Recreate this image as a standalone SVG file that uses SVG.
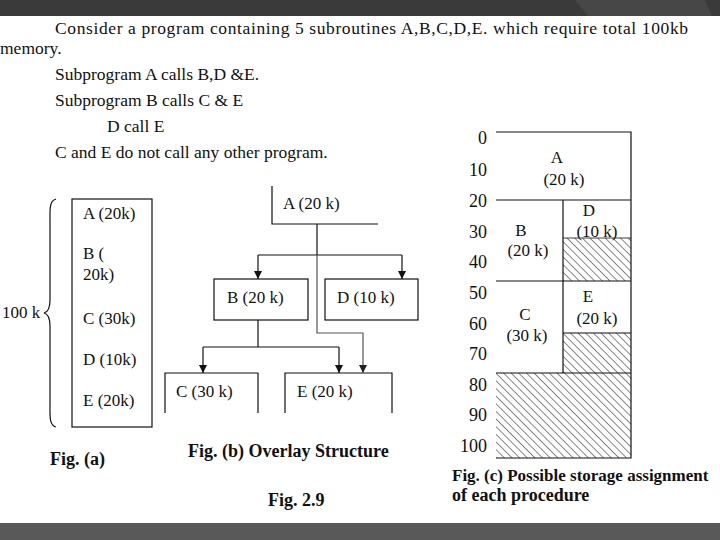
<svg xmlns="http://www.w3.org/2000/svg" width="720" height="540" viewBox="0 0 720 540">
<defs>
<style>
.t{font-family:"Liberation Serif","Times New Roman",serif;font-size:17.5px;fill:#111}
.s{font-family:"Liberation Serif","Times New Roman",serif;font-size:17px;fill:#111}
.n{font-family:"Liberation Serif","Times New Roman",serif;font-size:18px;fill:#111}
.b{font-family:"Liberation Serif","Times New Roman",serif;font-size:18px;font-weight:bold;fill:#111}
.bc{font-family:"Liberation Serif","Times New Roman",serif;font-size:17px;font-weight:bold;fill:#111}
.ln{stroke:#111;stroke-width:1.2;fill:none}
.bx{stroke:#111;stroke-width:1.2;fill:#fff}
</style>
<marker id="ah" viewBox="0 0 10 10" refX="10" refY="5" markerWidth="8" markerHeight="9" markerUnits="userSpaceOnUse" orient="auto">
<path d="M0,0 L10,5 L0,10 Z" fill="#111"/>
</marker>
<marker id="ahg" viewBox="0 0 10 10" refX="10" refY="5" markerWidth="8" markerHeight="9" markerUnits="userSpaceOnUse" orient="auto">
<path d="M0,0 L10,5 L0,10 Z" fill="#222"/>
</marker>
<pattern id="hatch" width="5.4" height="5.4" patternUnits="userSpaceOnUse" patternTransform="rotate(-45)">
<line x1="0" y1="0" x2="0" y2="5.4" stroke="#111" stroke-width="1"/>
</pattern>
</defs>
<rect x="0" y="0" width="720" height="540" fill="#fff"/>
<rect x="0" y="0" width="720" height="16" fill="#3a3a3a"/>
<polygon points="575,0 705,0 712,16 588,16" fill="#474747"/>
<rect x="0" y="523" width="720" height="17" fill="#595959"/>

<g id="problem-text">
<text class="t" x="55" y="34" textLength="633" lengthAdjust="spacing">Consider a program containing 5 subroutines A,B,C,D,E. which require total 100kb</text>
<text class="t" x="0" y="54">memory.</text>
<text class="t" x="55" y="80">Subprogram A calls B,D &amp;E.</text>
<text class="t" x="55" y="106">Subprogram B calls  C &amp; E</text>
<text class="t" x="107" y="132">D call E</text>
<text class="t" x="55" y="158">C and E do not call any other program.</text>
</g>

<g id="fig-a">
<rect class="bx" x="72" y="199" width="80" height="228"/>
<path class="ln" d="M56,199 C49,201 50,210 50,222 L50,300 C50,308 48,312 44,313 C48,314 50,318 50,326 L50,404 C50,416 49,425 56,427"/>
<text class="s" x="2" y="318">100 k</text>
<text class="s" x="83" y="219">A (20k)</text>
<text class="s" x="83" y="259">B (</text>
<text class="s" x="83" y="280">20k)</text>
<text class="s" x="83" y="324">C (30k)</text>
<text class="s" x="83" y="365">D (10k)</text>
<text class="s" x="83" y="406">E (20k)</text>
<text class="b" x="50" y="465">Fig. (a)</text>
</g>

<g id="fig-b">
<g id="node-A">
<path class="ln" d="M272,186 L272,224 L378,224"/>
<text class="s" x="283" y="209">A (20 k)</text>
</g>
<g id="node-B">
<rect class="bx" x="214" y="279" width="94" height="41"/>
<text class="s" x="227" y="303">B (20 k)</text>
</g>
<g id="node-D">
<rect class="bx" x="325" y="279" width="93" height="41"/>
<text class="s" x="337" y="303">D (10 k)</text>
</g>
<g id="node-C">
<path class="ln" d="M165,413 L165,373 L258,373 L258,413"/>
<text class="s" x="176" y="397">C (30 k)</text>
</g>
<g id="node-E">
<path class="ln" d="M285,413 L285,373 L392,373 L392,413"/>
<text class="s" x="297" y="397">E (20 k)</text>
</g>
<g id="connectors">
<path class="ln" d="M317,224 L317,255"/>
<path class="ln" d="M258,255 L402,255"/>
<path class="ln" d="M258,255 L258,279" marker-end="url(#ah)"/>
<path class="ln" d="M402,255 L402,279" marker-end="url(#ah)"/>
<path class="ln" d="M317,255 L317,333 L363,333 L363,373" style="stroke:#555" marker-end="url(#ahg)"/>
<path class="ln" d="M258,320 L258,347"/>
<path class="ln" d="M203,347 L339,347"/>
<path class="ln" d="M203,347 L203,373" marker-end="url(#ah)"/>
<path class="ln" d="M339,347 L339,373" marker-end="url(#ah)"/>
</g>
<text class="b" x="188" y="457">Fig. (b) Overlay Structure</text>
</g>

<g id="fig-c">
<rect x="563" y="238" width="68" height="43" fill="url(#hatch)"/>
<rect x="563" y="333" width="68" height="40" fill="url(#hatch)"/>
<rect x="496" y="373" width="135" height="85" fill="url(#hatch)"/>
<path class="ln" d="M496,132 L631,132 L631,458 L496,458"/>
<path class="ln" d="M496,200 L631,200"/>
<path class="ln" d="M496,281 L631,281"/>
<path class="ln" d="M563,200 L563,373"/>
<path class="ln" d="M563,238 L631,238" style="stroke-width:0.8"/>
<path class="ln" d="M563,333 L631,333"/>
<path class="ln" d="M496,373 L631,373"/>
<g class="n" text-anchor="end">
<text x="487" y="144">0</text>
<text x="487" y="176">10</text>
<text x="487" y="207">20</text>
<text x="487" y="238">30</text>
<text x="487" y="268">40</text>
<text x="487" y="299">50</text>
<text x="487" y="330">60</text>
<text x="487" y="360">70</text>
<text x="487" y="391">80</text>
<text x="487" y="421">90</text>
<text x="487" y="452">100</text>
</g>
<g class="s" text-anchor="middle">
<text x="557" y="163">A</text>
<text x="564" y="185">(20 k)</text>
<text x="521" y="236">B</text>
<text x="528" y="256">(20 k)</text>
<text x="589" y="216">D</text>
<text x="597" y="237">(10 k)</text>
<text x="588" y="302">E</text>
<text x="597" y="324">(20 k)</text>
<text x="525" y="320">C</text>
<text x="527" y="341">(30 k)</text>
</g>
<text class="bc" x="452" y="481">Fig. (c) Possible storage assignment</text>
<text class="b" x="452" y="501">of each procedure</text>
</g>
<text class="b" x="268" y="506">Fig. 2.9</text>
</svg>
